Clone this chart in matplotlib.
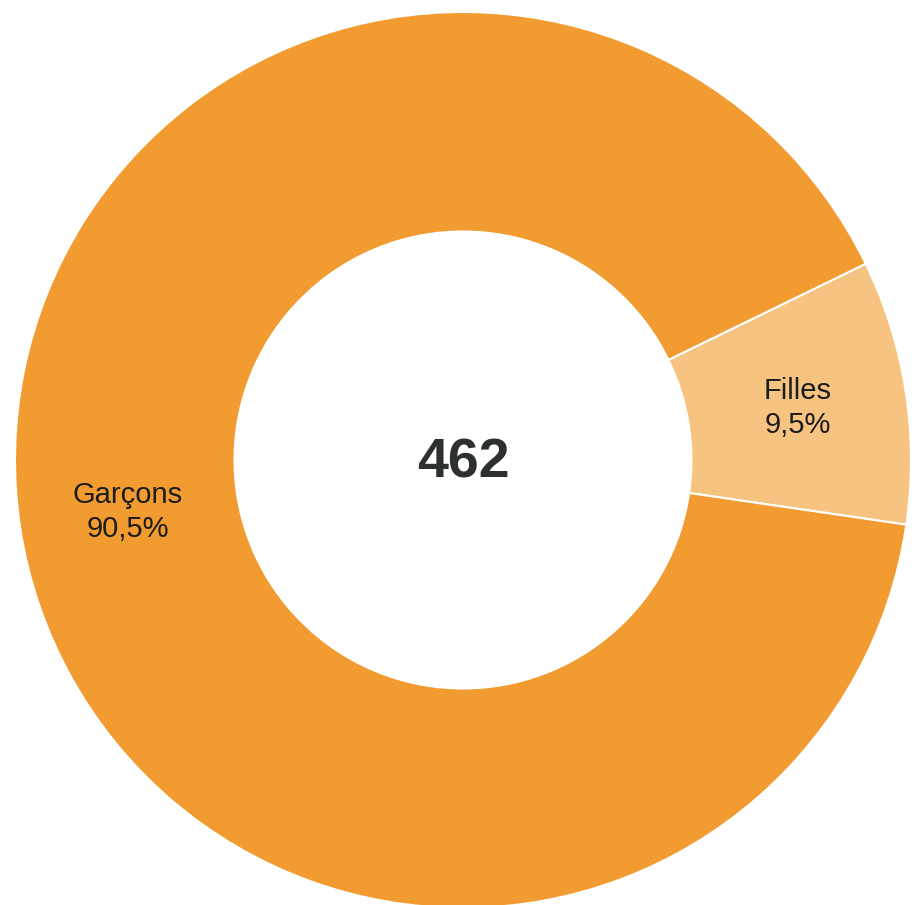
import matplotlib.pyplot as plt

# Répartition par sexe
categories = ["Filles", "Garçons"]
effectifs = [44, 418]
couleurs = ["#F6C480", "#F29B30"]

total = sum(effectifs)
labels = []
for cat, n in zip(categories, effectifs):
    pct = "{:.1f}".format(100 * n / total).replace(".", ",")
    labels.append(cat + "\n" + pct + "%")

plt.rcParams['font.family'] = ['Liberation Sans', 'DejaVu Sans']

fig = plt.figure(figsize=(9.15, 9.05), dpi=100)
fig.patch.set_facecolor('white')
ax = fig.add_axes([0, 0, 1, 1])

radius = 448
wedges, texts = ax.pie(effectifs, labels=labels, colors=couleurs, radius=radius,
                       startangle=-8.3, counterclock=True, labeldistance=0.757,
                       wedgeprops=dict(width=radius * 0.49, edgecolor='white', linewidth=1.5),
                       textprops=dict(fontsize=21, color='#1c1c1c'))
for t in texts:
    t.set_horizontalalignment('center')
    t.set_verticalalignment('center')
    t.set_linespacing(1.25)

ax.text(0, -3, str(total), ha='center', va='center', fontsize=40,
        fontweight='bold', color='#2d3030')

# 1 unit = 1 pixel, centre at (463, 460) from top-left
ax.set_xlim(-463, 915 - 463)
ax.set_ylim(-(905 - 460), 460)
ax.set_aspect('auto')
ax.axis('off')

fig.savefig('out.png', dpi=100)
